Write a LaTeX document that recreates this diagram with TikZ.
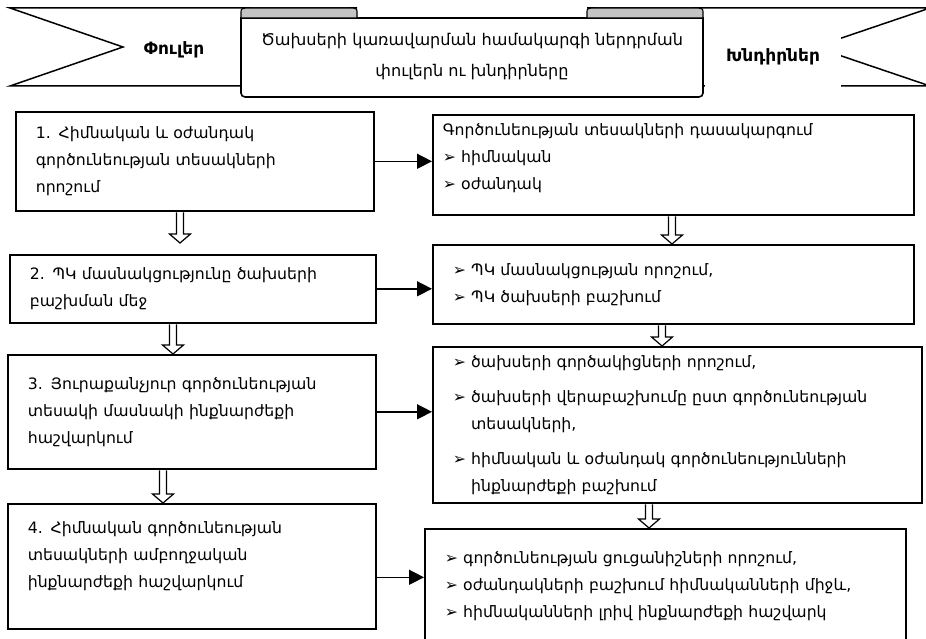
\documentclass[tikz,border=0pt]{standalone}
\usepackage{fontspec}
\setmainfont{DejaVu Sans}
\usetikzlibrary{arrows.meta,calc,positioning}

\definecolor{curlgray}{RGB}{196,196,196}

\newcommand{\holarrow}[3]{%
  \draw[line width=1.2pt,fill=white] let \p1=(#2), \p2=(#3) in
    (#1pt-3.5pt,\y1-0.8pt) -- (#1pt-3.5pt,\y2+9pt) -- (#1pt-10.5pt,\y2+9pt) -- (#1pt,\y2)
    -- (#1pt+10.5pt,\y2+9pt) -- (#1pt+3.5pt,\y2+9pt) -- (#1pt+3.5pt,\y1-0.8pt);}

\begin{document}
\begin{tikzpicture} [x=1pt,y=-1pt,line width=1.6pt,
  box/.style={draw,anchor=north west,align=left,inner xsep=20pt,font=\fontsize{15.7}{27}\selectfont},
  tag/.style={fill=white,font=\bfseries\fontsize{17}{20}\selectfont},
  link/.style={-{Triangle[length=15pt,width=15pt]},line width=1.5pt}]

  \clip (0,0) rectangle (926,639);

  \draw[line width=1.5pt] (357,8) -- (10,8) -- (123,47) -- (10,86) -- (242,86);
  \draw[line width=1.5pt] (587,8) -- (930,8) -- (815,47) -- (930,86) -- (703,86);
  \node[tag] (phul) at (174,50) {Փուլեր};
  \node[tag,minimum width=136pt,minimum height=64pt] (khndir) at (773,57) {Խնդիրներ};

  \draw[fill=white] (241,18) [rounded corners=4pt] -- (241,97) -- (703,97) [sharp corners] -- (703,18) -- cycle;
  \draw[fill=curlgray,line width=1.2pt] (241,18) -- (241,13) .. controls (241,8) .. (252,8) -- (348,8)
    .. controls (357,8) .. (357,13) -- (357,18) -- cycle;
  \draw[fill=curlgray,line width=1.2pt] (587,18) -- (587,13) .. controls (587,8) .. (596,8) -- (692,8)
    .. controls (703,8) .. (703,13) -- (703,18) -- cycle;
  \node[align=center,font=\fontsize{16.1}{31}\selectfont] (title) at (472,57)
    {Ծախսերի կառավարման համակարգի ներդրման\\փուլերն ու խնդիրները};

  \node[box,text width=318pt,minimum height=99pt] (l1) at (15,111)
    {1. Հիմնական և օժանդակ\\գործունեության տեսակների\\որոշում};
  \node[box,text width=326pt,minimum height=68pt] (l2) at (9,254)
    {2. ՊԿ մասնակցությունը ծախսերի\\բաշխման մեջ};
  \node[box,text width=328pt,minimum height=114pt] (l3) at (7,354)
    {3. Յուրաքանչյուր գործունեության\\տեսակի մասնակի ինքնարժեքի\\հաշվարկում};
  \node[box,text width=328pt,minimum height=125pt,text depth=78pt] (l4) at (7,503)
    {4. Հիմնական գործունեության\\տեսակների ամբողջական\\ինքնարժեքի հաշվարկում};

  \node[box,inner xsep=10pt,text width=461pt,minimum height=100pt,text depth=70pt] (r1) at (432,114)
    {Գործունեության տեսակների դասակարգում\\➢ հիմնական\\➢ օժանդակ};
  \node[box,text width=441pt,minimum height=79pt] (r2) at (432,244)
    {➢ ՊԿ մասնակցության որոշում,\\➢ ՊԿ ծախսերի բաշխում};
  \node[box,text width=449pt,minimum height=156pt] (r3) at (432,346)
    {➢ ծախսերի գործակիցների որոշում,\\[8pt]
     ➢ ծախսերի վերաբաշխումը ըստ գործունեության\\\phantom{➢ }տեսակների,\\[8pt]
     ➢ հիմնական և օժանդակ գործունեությունների\\\phantom{➢ }ինքնարժեքի բաշխում};
  \node[box,text width=441pt,minimum height=115pt] (r4) at (424,528)
    {➢ գործունեության ցուցանիշների որոշում,\\➢ օժանդակների բաշխում հիմնականների միջև,\\➢ հիմնականների լրիվ ինքնարժեքի հաշվարկ};

  \coordinate (l4out) at ($(l4.east)+(0,11)$);
  \draw[link] (l1.east) -- (l1.east -| r1.west);
  \draw[link] (l2.east) -- (l2.east -| r2.west);
  \draw[link] (l3.east) -- (l3.east -| r3.west);
  \draw[link] (l4out) -- (l4out -| r4.west);

  \holarrow{180}{l1.south}{$(l2.north)+(0,-11)$}
  \holarrow{173}{l2.south}{l3.north}
  \holarrow{163}{l3.south}{l4.north}
  \holarrow{672}{r1.south}{r2.north}
  \holarrow{662}{r2.south}{r3.north}
  \holarrow{649}{r3.south}{r4.north}

\end{tikzpicture}
\end{document}
